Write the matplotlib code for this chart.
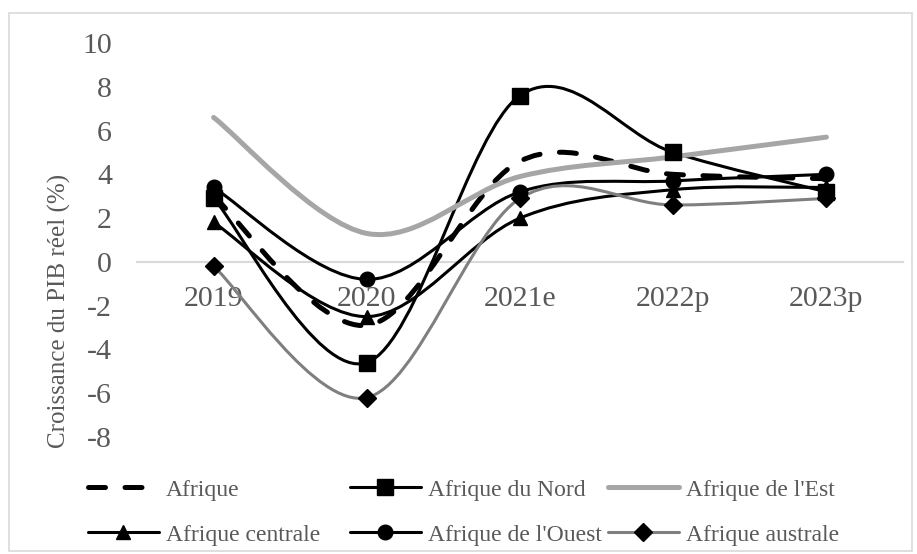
# -*- coding: utf-8 -*-
# Croissance du PIB réel par région africaine, 2019-2023p

import numpy as np
from matplotlib import pyplot as plt
from matplotlib.path import Path
from matplotlib.patches import PathPatch, Rectangle
from matplotlib.lines import Line2D

# Données
annees = ["2019", "2020", "2021e", "2022p", "2023p"]
afrique = [3.0, -2.9, 4.6, 4.0, 3.8]
afrique_nord = [2.9, -4.6, 7.6, 5.0, 3.2]
afrique_est = [6.6, 1.3, 3.9, 4.8, 5.7]
afrique_centrale = [1.8, -2.5, 2.0, 3.3, 3.4]
afrique_ouest = [3.4, -0.8, 3.2, 3.7, 4.0]
afrique_australe = [-0.2, -6.2, 2.9, 2.6, 2.9]

plt.rcParams["font.family"] = ["Liberation Serif", "DejaVu Serif"]
plt.rcParams["axes.unicode_minus"] = False
gris_texte = "#595959"


def courbe_lissee(xs, ys):
    """Chemin de Bézier passant par les points (lissage type tableur)."""
    pts = np.column_stack([xs, ys]).astype(float)
    ext = np.vstack([pts[0], pts, pts[-1]])
    verts = [pts[0]]
    codes = [Path.MOVETO]
    for i in range(len(pts) - 1):
        p0, p1, p2, p3 = ext[i], ext[i + 1], ext[i + 2], ext[i + 3]
        verts += [p1 + (p2 - p0) / 6., p2 - (p3 - p1) / 6., p2]
        codes += [Path.CURVE4] * 3
    return Path(verts, codes)


series = [
    # label, valeurs, couleur, largeur, style, marqueur, taille
    ("Afrique", afrique, "black", 3.6, (0, (3.4, 3.9)), None, 0),
    ("Afrique du Nord", afrique_nord, "black", 2.2, "-", "s", 11),
    ("Afrique de l'Est", afrique_est, "#a6a6a6", 3.6, "-", None, 0),
    ("Afrique centrale", afrique_centrale, "black", 2.2, "-", "^", 10.5),
    ("Afrique de l'Ouest", afrique_ouest, "black", 2.2, "-", "o", 10.5),
    ("Afrique australe", afrique_australe, "#7f7f7f", 2.2, "-", "D", 9),
]

fig = plt.figure(figsize=(9.17, 5.54), dpi=100)
ax = fig.add_axes([137/917, 1 - 437/554, 766/917, 394/554])

x = np.arange(len(annees))
handles = {}
for label, vals, color, lw, ls, marker, ms in series:
    patch = PathPatch(courbe_lissee(x, vals), facecolor="none",
                      edgecolor=color, linewidth=lw, linestyle=ls,
                      capstyle="round", joinstyle="round", zorder=3)
    ax.add_patch(patch)
    if marker:
        ax.plot(x, vals, linestyle="none", marker=marker, markersize=ms,
                color="black", zorder=4)
    handles[label] = Line2D([], [], color=color, linewidth=lw,
                            linestyle=ls, marker=marker, markersize=ms,
                            markerfacecolor="black", markeredgecolor="black",
                            dash_capstyle="round", solid_capstyle="round")

ax.set_xlim(-0.5, len(annees) - 0.5)
ax.set_ylim(-8, 10)
ax.set_yticks(np.arange(-8, 11, 2))
ax.set_xticks(x)
ax.set_xticklabels(annees)

for s in ["top", "right", "left"]:
    ax.spines[s].set_visible(False)
ax.spines["bottom"].set_position(("data", 0))
ax.spines["bottom"].set_color("#d9d9d9")
ax.spines["bottom"].set_linewidth(1.5)
ax.spines["bottom"].set_zorder(1)
ax.tick_params(axis="both", length=0, labelsize=21.5, labelcolor=gris_texte)
ax.tick_params(axis="x", pad=17)
ax.tick_params(axis="y", pad=18)
ax.set_ylabel("Croissance du PIB réel (%)", fontsize=18, color=gris_texte)
ax.yaxis.set_label_coords(-0.086, 0.32)

# Légende : trois colonnes de largeur fixe, deux lignes
colonnes = [
    (88, ["Afrique", "Afrique centrale"]),
    (350, ["Afrique du Nord", "Afrique de l'Ouest"]),
    (608, ["Afrique de l'Est", "Afrique australe"]),
]
for x0, noms in colonnes:
    leg = fig.legend([handles[k] for k in noms], noms, loc="upper left",
                     bbox_to_anchor=(x0/917, 1 - 479/554), frameon=False,
                     fontsize=17, handlelength=3.0, handletextpad=0.3,
                     labelspacing=1.0, borderpad=0, borderaxespad=0,
                     labelcolor=gris_texte)

# Cadre du graphique
fig.patches.append(Rectangle((9/917, 3/554), 903/917, 538/554,
                             transform=fig.transFigure, fill=False,
                             edgecolor="#d9d9d9", linewidth=1.2))

fig.savefig("out.png", dpi=100)
